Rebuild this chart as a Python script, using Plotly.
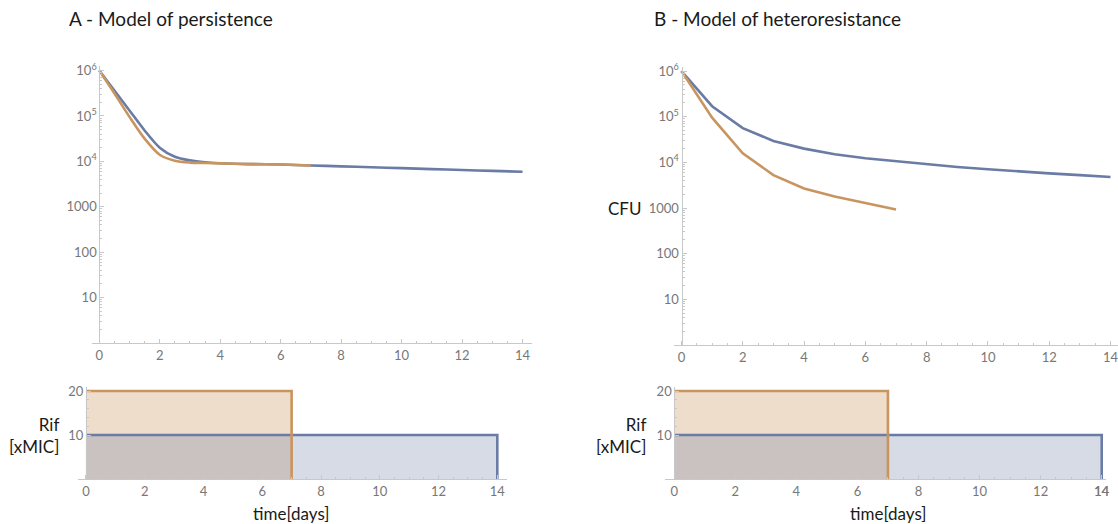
import plotly.graph_objects as go

W, H = 1118, 524

# ---------------- data ----------------
# A - persistence model (CFU over time)
days_A_rif10 = [0, 0.5, 1, 1.5, 2, 2.5, 3, 3.5, 4, 5, 6, 7, 8, 9, 10, 11, 12, 13, 14]
cfu_A_rif10 = [1000000, 363000, 132000, 47900, 20000, 12600, 10500, 9550, 9120,
               8710, 8510, 8130, 7760, 7410, 7080, 6760, 6460, 6170, 5890]
days_A_rif20 = [0, 0.5, 1, 1.5, 2, 2.5, 3, 3.5, 4, 5, 6, 7]
cfu_A_rif20 = [1000000, 316000, 95500, 31600, 14000, 10300, 9400, 9230, 9020,
               8710, 8510, 8130]

# B - heteroresistance model (CFU over time)
days_B_rif10 = [0, 1, 2, 3, 4, 5, 6, 7, 8, 9, 10, 11, 12, 13, 14]
cfu_B_rif10 = [1000000, 170000, 56200, 29500, 20000, 15100, 12300, 10500, 9120,
               7940, 7080, 6310, 5750, 5250, 4790]
days_B_rif20 = [0, 1, 2, 3, 4, 5, 6, 7]
cfu_B_rif20 = [1000000, 95500, 15800, 5250, 2690, 1780, 1290, 930]

# Rifampicin regimens
rif_dose_low, rif_days_low = 10, 14     # xMIC, days
rif_dose_high, rif_days_high = 20, 7

day_ticks = [0, 2, 4, 6, 8, 10, 12, 14]
cfu_tickvals = [10, 100, 1000, 10000, 100000, 1000000]
cfu_ticktext = ["10", "100", "1000", "10<sup>4</sup>", "10<sup>5</sup>", "10<sup>6</sup>"]
rif_ticks = [10, 20]

# ---------------- style ----------------
BLUE = "#6a7ca5"
ORANGE = "#c9955e"
BLUE_FILL = "rgba(106,124,165,0.28)"
ORANGE_FILL = "rgba(201,149,94,0.32)"
AX = "#c8c8c8"
FONT = "Lato, Open Sans, sans-serif"
TICKFONT = dict(family=FONT, size=13, color="#777777")
LABFONT = dict(family=FONT, size=17, color="#1a1a1a")
TITLEFONT = dict(family=FONT, size=19, color="#1a1a1a")


def step(dose, days):
    return [0, days, days], [dose, dose, 0]


fig = go.Figure()

# top-left (smooth model solutions)
fig.add_trace(go.Scatter(x=days_A_rif10, y=cfu_A_rif10, mode="lines",
                         line=dict(color=BLUE, width=2.6, shape="spline", smoothing=0.8),
                         xaxis="x", yaxis="y"))
fig.add_trace(go.Scatter(x=days_A_rif20, y=cfu_A_rif20, mode="lines",
                         line=dict(color=ORANGE, width=2.6, shape="spline", smoothing=0.8),
                         xaxis="x", yaxis="y"))
# top-right
fig.add_trace(go.Scatter(x=days_B_rif10, y=cfu_B_rif10, mode="lines",
                         line=dict(color=BLUE, width=2.6), xaxis="x2", yaxis="y2"))
fig.add_trace(go.Scatter(x=days_B_rif20, y=cfu_B_rif20, mode="lines",
                         line=dict(color=ORANGE, width=2.6), xaxis="x2", yaxis="y2"))

# bottom panels
for xa, ya in (("x3", "y3"), ("x4", "y4")):
    hx, hy = step(rif_dose_high, rif_days_high)
    lx, ly = step(rif_dose_low, rif_days_low)
    fig.add_trace(go.Scatter(x=hx, y=hy, mode="none", fill="tozeroy",
                             fillcolor=ORANGE_FILL, xaxis=xa, yaxis=ya))
    fig.add_trace(go.Scatter(x=lx, y=ly, mode="none", fill="tozeroy",
                             fillcolor=BLUE_FILL, xaxis=xa, yaxis=ya))
    fig.add_trace(go.Scatter(x=lx, y=ly, mode="lines", line=dict(color=BLUE, width=2.6),
                             xaxis=xa, yaxis=ya, cliponaxis=False))
    fig.add_trace(go.Scatter(x=hx, y=hy, mode="lines", line=dict(color=ORANGE, width=2.6),
                             xaxis=xa, yaxis=ya, cliponaxis=False))


def xax(domain, rng, anchor):
    return dict(domain=domain, range=rng, anchor=anchor, showline=True, linecolor=AX,
                linewidth=1, showgrid=False, zeroline=False, ticks="inside", ticklen=4,
                tickcolor=AX, tickmode="array", tickvals=day_ticks, tickfont=TICKFONT,
                ticklabeloverflow="allow", automargin=False,
                minor=dict(dtick=0.5, tick0=0, ticks="inside", ticklen=2, tickcolor=AX))


log_minor = [k * 10 ** d for d in range(0, 6) for k in range(2, 10)]


def ylog(domain, pos):
    return dict(domain=domain, type="log", range=[0, 6.1], anchor="free", position=pos,
                showline=True, linecolor=AX, linewidth=1, showgrid=False, zeroline=False,
                ticks="inside", ticklen=4, tickcolor=AX, tickmode="array",
                tickvals=cfu_tickvals, ticktext=cfu_ticktext, tickfont=TICKFONT,
                automargin=False,
                minor=dict(tickmode="array", tickvals=log_minor, ticks="inside",
                           ticklen=2, tickcolor=AX))


def ylin(domain, pos):
    return dict(domain=domain, range=[0, 21], anchor="free", position=pos,
                showline=True, linecolor=AX, linewidth=1, showgrid=False, zeroline=False,
                ticks="inside", ticklen=4, tickcolor=AX, tickmode="array",
                tickvals=rif_ticks, tickfont=TICKFONT, automargin=False,
                minor=dict(dtick=2, tick0=0, ticks="inside", ticklen=2, tickcolor=AX))


fig.update_layout(
    template="none",
    width=W, height=H, margin=dict(l=0, r=0, t=0, b=0, autoexpand=False),
    paper_bgcolor="white", plot_bgcolor="white", showlegend=False,
    xaxis=xax([91.7 / W, 531.6 / W], [-0.25, 14.3], "y"),
    yaxis=ylog([(H - 343) / H, (H - 66) / H], 99.3 / W),
    xaxis2=xax([673.8 / W, 0.9999], [-0.25, 14.24], "y2"),
    yaxis2=ylog([(H - 345) / H, (H - 66.5) / H], 681.5 / W),
    xaxis3=xax([78 / W, 507 / W], [-0.27, 14.33], "y3"),
    yaxis3=ylin([(H - 479) / H, (H - 386.6) / H], 86 / W),
    xaxis4=xax([665 / W, 1106 / W], [-0.3, 14.14], "y4"),
    yaxis4=ylin([(H - 479) / H, (H - 386.6) / H], 674.3 / W),
)

ann = [
    dict(text="A - Model of persistence", x=67 / W, y=(H - 19) / H, xanchor="left",
         font=TITLEFONT),
    dict(text="B - Model of heteroresistance", x=652 / W, y=(H - 19) / H, xanchor="left",
         font=TITLEFONT),
    dict(text="CFU", x=643 / W, y=(H - 208) / H, xanchor="right", font=LABFONT),
    dict(text="Rif<br>[xMIC]", x=61 / W, y=(H - 435) / H, xanchor="right", align="right",
         font=LABFONT),
    dict(text="Rif<br>[xMIC]", x=648 / W, y=(H - 435) / H, xanchor="right", align="right",
         font=LABFONT),
    dict(text="time[days]", x=291 / W, y=(H - 513) / H, xanchor="center", font=LABFONT),
    dict(text="time[days]", x=888 / W, y=(H - 513) / H, xanchor="center", font=LABFONT),
]
for a in ann:
    a.update(xref="paper", yref="paper", yanchor="middle", showarrow=False)
# last day label of the bottom-right time axis (drawn in the tick style)
ann.append(dict(text=str(day_ticks[-1]), x=day_ticks[-1], xref="x4", y=(H - 491) / H,
                yref="paper", xanchor="center", yanchor="middle", showarrow=False,
                font=TICKFONT))
fig.update_layout(annotations=ann)

fig.write_html("out.html")
